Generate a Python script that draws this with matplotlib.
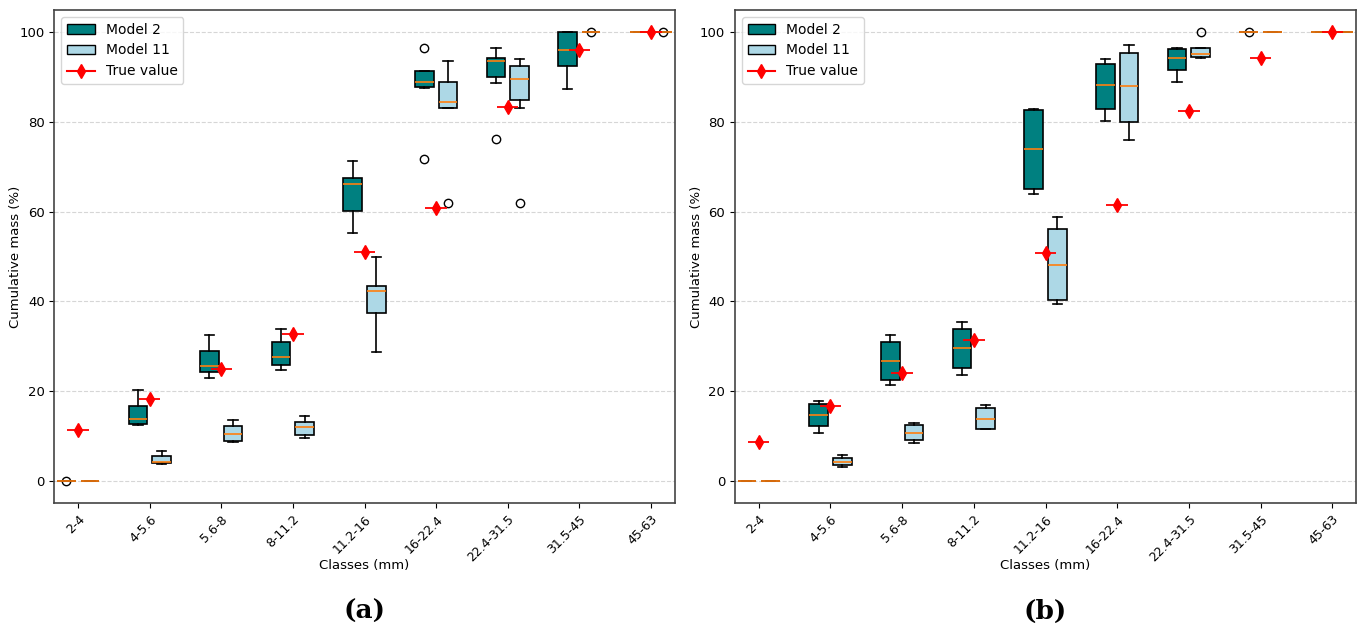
import matplotlib
matplotlib.use("Agg")
import matplotlib.pyplot as plt
from matplotlib.patches import Patch
from matplotlib.lines import Line2D
import numpy as np

classes = ["2-4", "4-5.6", "5.6-8", "8-11.2", "11.2-16", "16-22.4", "22.4-31.5", "31.5-45", "45-63"]

# ---- Panel (a) ----
a_m2_med = [0, 13.8, 25.5, 27.5, 66.2, 88.9, 93.7, 96.0, 100]
a_m2_q1 = [0, 12.7, 24.3, 25.8, 60.1, 87.9, 90.1, 92.6, 100]
a_m2_q3 = [0, 16.7, 29.0, 31.0, 67.5, 91.4, 94.3, 100, 100]
a_m2_lo = [0, 12.5, 22.9, 24.6, 55.2, 87.5, 88.8, 87.4, 100]
a_m2_hi = [0, 20.3, 32.5, 33.9, 71.4, 91.5, 96.6, 100, 100]
a_m2_fl = [[0], [], [], [], [], [96.6, 71.7], [76.2], [], []]

a_m11_med = [0, 4.2, 10.5, 11.9, 42.3, 84.4, 89.7, 100, 100]
a_m11_q1 = [0, 3.9, 8.9, 10.2, 37.4, 83.2, 84.9, 100, 100]
a_m11_q3 = [0, 5.5, 12.2, 13.1, 43.5, 89.0, 92.6, 100, 100]
a_m11_lo = [0, 3.7, 8.7, 9.5, 28.6, 83.1, 83.1, 100, 100]
a_m11_hi = [0, 6.7, 13.5, 14.4, 49.9, 93.6, 94.0, 100, 100]
a_m11_fl = [[], [], [], [], [], [62.0], [62.0], [100], [100]]

a_true = [11.2, 18.3, 24.9, 32.7, 50.9, 60.9, 83.4, 96.0, 100]

# ---- Panel (b) ----
b_m2_med = [0, 14.7, 26.6, 29.6, 74.0, 88.2, 94.3, 100, 100]
b_m2_q1 = [0, 12.1, 22.5, 25.1, 65.0, 82.9, 91.7, 100, 100]
b_m2_q3 = [0, 17.1, 31.0, 33.9, 82.7, 93.0, 96.2, 100, 100]
b_m2_lo = [0, 10.6, 21.4, 23.5, 64.0, 80.3, 88.9, 100, 100]
b_m2_hi = [0, 17.8, 32.4, 35.4, 82.8, 94.0, 96.6, 100, 100]
b_m2_fl = [[], [], [], [], [], [], [], [100], []]

b_m11_med = [0, 4.2, 10.7, 13.8, 48.0, 88.1, 95.1, 100, 100]
b_m11_q1 = [0, 3.4, 9.0, 11.5, 40.2, 79.9, 94.6, 100, 100]
b_m11_q3 = [0, 5.1, 12.4, 16.1, 56.2, 95.5, 96.6, 100, 100]
b_m11_lo = [0, 3.0, 8.3, 11.4, 39.3, 75.9, 94.3, 100, 100]
b_m11_hi = [0, 5.6, 12.9, 16.9, 58.8, 97.2, 96.6, 100, 100]
b_m11_fl = [[], [], [], [], [], [], [100], [], []]

b_true = [8.6, 16.6, 24.0, 31.4, 50.7, 61.4, 82.4, 94.4, 100]


def make_stats(med, q1, q3, lo, hi, fl):
    return [dict(med=m, q1=a, q3=b, whislo=l, whishi=h, fliers=f)
            for m, a, b, l, h, f in zip(med, q1, q3, lo, hi, fl)]


def draw(ax, m2, m11, true, caption):
    x = np.arange(len(classes))
    off, w = 0.165, 0.26
    for stats, pos, col in [(m2, x - off, "#008080"), (m11, x + off, "#add8e6")]:
        ax.bxp(stats, positions=pos, widths=w, patch_artist=True,
               boxprops=dict(facecolor=col, edgecolor="black", linewidth=1.2),
               medianprops=dict(color="#ff7f0e", linewidth=1.2),
               whiskerprops=dict(color="black", linewidth=1.2),
               capprops=dict(color="black", linewidth=1.2),
               flierprops=dict(marker="o", markerfacecolor="none",
                               markeredgecolor="black", markersize=6),
               manage_ticks=False, zorder=2)
    ax.errorbar(x, true, xerr=0.15, fmt="d", color="red", markersize=7,
                elinewidth=1.3, capsize=0, zorder=4)
    handles = [Patch(facecolor="#008080", edgecolor="black", label="Model 2"),
               Patch(facecolor="#add8e6", edgecolor="black", label="Model 11"),
               Line2D([], [], color="red", marker="d", markersize=7,
                      linewidth=1.5, label="True value")]
    ax.legend(handles=handles, loc="upper left", fontsize=10, framealpha=0.8)
    ax.set_xticks(x)
    ax.set_xticklabels(classes, rotation=45, ha="right", rotation_mode="anchor", fontsize=9)
    ax.tick_params(axis="y", labelsize=9.5)
    ax.set_xlim(-0.33, 8.33)
    ax.set_ylim(-5, 105)
    ax.set_yticks([0, 20, 40, 60, 80, 100])
    ax.yaxis.grid(True, linestyle="--", color="#cccccc", linewidth=0.8, alpha=0.8)
    ax.set_axisbelow(True)
    ax.set_xlabel("Classes (mm)", fontsize=9.5)
    ax.set_ylabel("Cumulative mass (%)", fontsize=9.5)
    ax.xaxis.set_label_coords(0.5, -0.114)
    ax.yaxis.set_label_coords(-0.052, 0.5)
    for s in ax.spines.values():
        s.set_color("#444444")
        s.set_linewidth(1.2)
    ax.text(0.5, -0.22, caption, transform=ax.transAxes, ha="center", va="center",
            fontsize=19, family="DejaVu Serif", fontweight="bold")


fig = plt.figure(figsize=(13.65, 6.33), dpi=100)
ax1 = fig.add_axes([54.5 / 1365, 1 - 503 / 633, 620 / 1365, 493 / 633])
ax2 = fig.add_axes([735 / 1365, 1 - 503 / 633, 621 / 1365, 493 / 633])

draw(ax1,
     make_stats(a_m2_med, a_m2_q1, a_m2_q3, a_m2_lo, a_m2_hi, a_m2_fl),
     make_stats(a_m11_med, a_m11_q1, a_m11_q3, a_m11_lo, a_m11_hi, a_m11_fl),
     a_true, "(a)")
draw(ax2,
     make_stats(b_m2_med, b_m2_q1, b_m2_q3, b_m2_lo, b_m2_hi, b_m2_fl),
     make_stats(b_m11_med, b_m11_q1, b_m11_q3, b_m11_lo, b_m11_hi, b_m11_fl),
     b_true, "(b)")

fig.savefig("out.png", dpi=100)
